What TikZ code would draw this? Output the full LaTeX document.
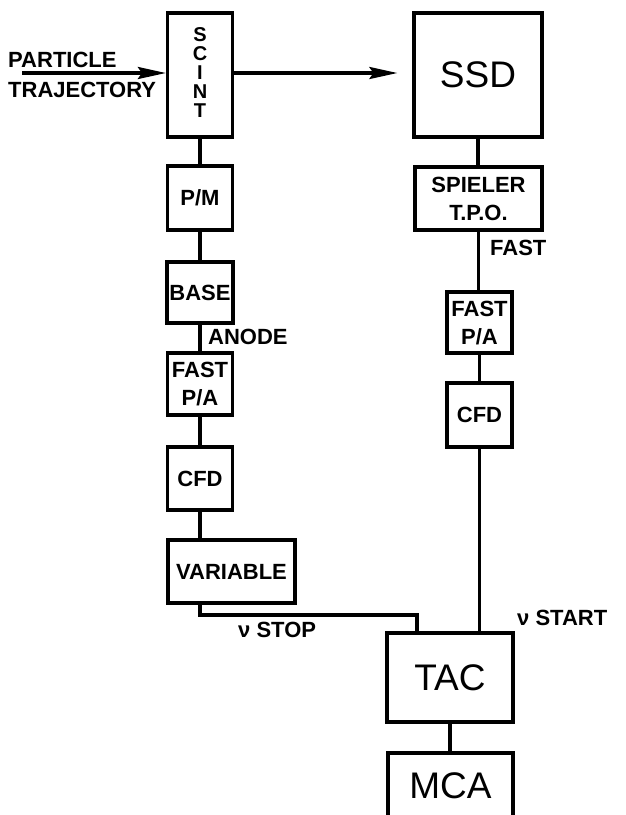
\documentclass[tikz,border=0pt]{standalone}
\usepackage{fontspec}
\setmainfont{Liberation Sans}
\usetikzlibrary{arrows.meta}
\tikzset{
  blk/.style={draw, line width=3.2pt, inner sep=0pt, text depth=0pt, align=center,
    font=\bfseries\fontsize{22}{28}\selectfont},
  bigblk/.style={blk, font=\fontsize{37}{40}\selectfont},
  lbl/.style={inner sep=0pt, anchor=west, text depth=0pt, font=\bfseries\fontsize{22}{26}\selectfont},
  vlet/.style={inner sep=0pt, text depth=0pt, font=\bfseries\fontsize{20}{20}\selectfont},
  wire/.style={line width=3.2pt},
  arr/.style={line width=3.2pt, -{Stealth[length=28pt,width=12pt,inset=4pt]}}
}
\begin{document}
\begin{tikzpicture}[x=1pt,y=-1pt]
\clip (0,0) rectangle (625,815);
\fill[white] (0,0) rectangle (625,815);
% left column
\node[blk, minimum width=65pt, minimum height=124pt] (scint) at (200,75) {};
\node[vlet] (s1) at (200,35) {S};
\node[vlet] (s2) at (200,54) {C};
\node[vlet] (s3) at (200,73) {I};
\node[vlet] (s4) at (200,92) {N};
\node[vlet] (s5) at (200,111) {T};
\node[blk, minimum width=65pt, minimum height=64pt] (pm) at (200,198) {P/M};
\node[blk, minimum width=66pt, minimum height=61pt] (base) at (200,292.5) {BASE};
\node[blk, minimum width=65pt, minimum height=62pt] (fpaL) at (200,384) {FAST\\P/A};
\node[blk, minimum width=65pt, minimum height=63pt] (cfdL) at (200,478.5) {CFD};
\node[blk, minimum width=127pt, minimum height=63pt] (var) at (231.5,571.5) {VARIABLE};
% right column
\node[bigblk, minimum width=128pt, minimum height=124pt] (ssd) at (478,75) {SSD};
\node[blk, minimum width=127pt, minimum height=63pt] (spl) at (478.5,198.5) {SPIELER\\T.P.O.};
\node[blk, minimum width=65pt, minimum height=61pt] (fpaR) at (479.5,322.5) {FAST\\P/A};
\node[blk, minimum width=65pt, minimum height=64pt] (cfdR) at (479.5,415) {CFD};
\node[bigblk, minimum width=126pt, minimum height=89pt] (tac) at (450,677.5) {TAC};
\node[bigblk, minimum width=125pt, minimum height=65pt] (mca) at (450.5,785.5) {MCA};
% labels
\node[lbl] (lp) at (8,60) {PARTICLE};
\node[lbl] (lt) at (8,90) {TRAJECTORY};
\node[lbl] (lan) at (208,337) {ANODE};
\node[lbl] (lfast) at (490,248) {FAST};
\node[lbl] (lstop) at (238,630) {ν STOP};
\node[lbl] (lstart) at (517,618) {ν START};
% connectors
\coordinate (pin) at (22,73);
\coordinate (stopc) at (417,615);
\draw[arr] (pin) -- (pin -| scint.west);
\draw[arr, shorten >=15pt] (scint.east |- pin) -- (ssd.west |- pin);
\draw[wire] (scint) -- (pm);
\draw[wire] (pm) -- (base);
\draw[wire] (base) -- (fpaL);
\draw[wire] (fpaL) -- (cfdL);
\draw[wire] (cfdL) -- (cfdL |- var.north);
\draw[wire] (cfdL |- var.south) |- (stopc) -- (stopc |- tac.north);
\draw[wire] (ssd) -- (ssd |- spl.north);
\draw[wire] (spl) -- (spl |- fpaR.north);
\draw[wire] (fpaR) -- (cfdR);
\draw[wire] (cfdR) -- (cfdR |- tac.north);
\draw[wire] (tac) -- (tac |- mca.north);
\end{tikzpicture}
\end{document}
